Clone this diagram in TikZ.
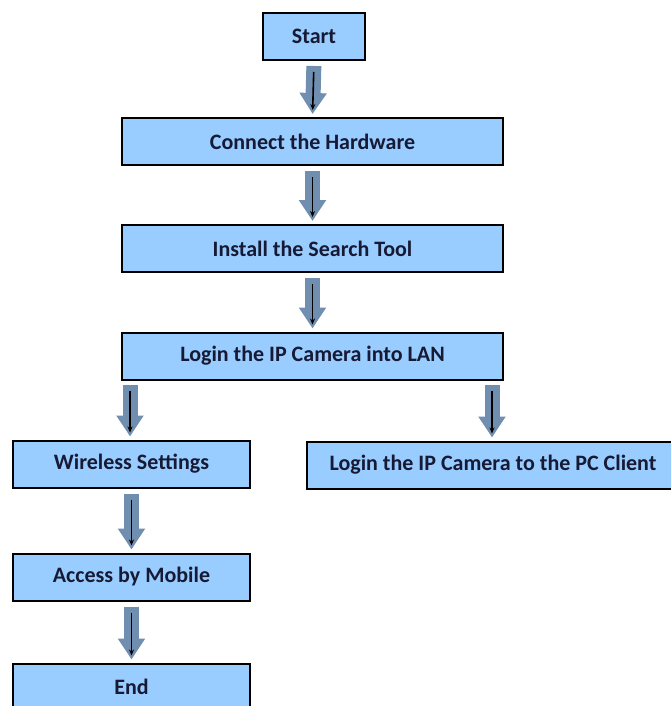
\documentclass[tikz,border=0pt]{standalone}
\usepackage{fontspec}
\setmainfont{Carlito}
\usetikzlibrary{arrows.meta}
\definecolor{boxBlue}{RGB}{153,204,255}
\definecolor{arrowBlue}{RGB}{112,142,176}
\definecolor{textNavy}{RGB}{22,26,52}
\begin{document}
\begin{tikzpicture}[x=1pt, y=1pt,
    boxStyle/.style={rectangle, draw=black, line width=2pt, fill=boxBlue, text=textNavy, font=\fontsize{22}{25}\selectfont\bfseries, minimum height=47pt, inner sep=0pt},
    blockArrow/.style={draw=arrowBlue, line width=15pt, shorten <=5pt, shorten >=3pt, -{Triangle[width=26pt, length=21pt]}},
    innerArrow/.style={draw=black, line width=1.6pt, shorten <=11pt, shorten >=7pt, -{Stealth[length=6pt, width=5pt]}}]
    \useasboundingbox (0,0) rectangle (670,-706);

    \node[boxStyle, minimum width=102pt] (n_start) at (314,-36.5) {Start};
    \node[boxStyle, minimum width=381pt] (n_hw)    at (312.5,-141.5) {Connect the Hardware};
    \node[boxStyle, minimum width=381pt] (n_tool)  at (312.5,-248.5) {Install the Search Tool};
    \node[boxStyle, minimum width=381pt] (n_lan)   at (312.5,-356) {Login the IP Camera into LAN};

    \node[boxStyle, minimum width=237pt] (n_wifi)   at (131.5,-464) {Wireless Settings};
    \node[boxStyle, minimum width=372pt] (n_pc)     at (493,-465) {Login the IP Camera to the PC Client};
    \node[boxStyle, minimum width=237pt] (n_mobile) at (131.5,-577) {Access by Mobile};
    \node[boxStyle, minimum width=237pt] (n_end)    at (131.5,-687) {End};

    \coordinate (lan_L) at (130,-380);
    \coordinate (lan_R) at (492,-380);

    \foreach \a/\b in {n_start/n_hw, n_hw/n_tool, n_tool/n_lan, n_wifi/n_mobile, n_mobile/n_end} {
        \draw[blockArrow] (\a.south) -- (\b.north);
        \draw[innerArrow] (\a.south) -- (\b.north);
    }
    \draw[blockArrow] (lan_L) -- (lan_L |- n_wifi.north);
    \draw[innerArrow] (lan_L) -- (lan_L |- n_wifi.north);
    \draw[blockArrow] (lan_R) -- (lan_R |- n_pc.north);
    \draw[innerArrow] (lan_R) -- (lan_R |- n_pc.north);
\end{tikzpicture}
\end{document}
